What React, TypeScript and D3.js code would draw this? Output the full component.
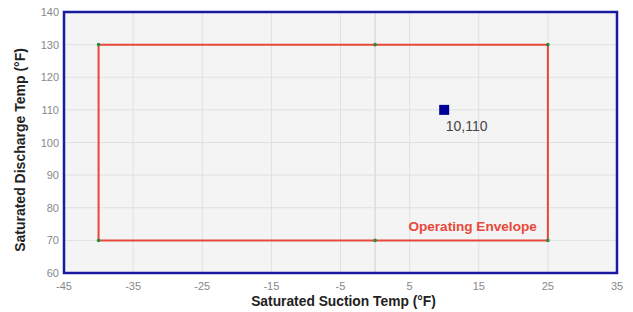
import React from 'react';
import { scaleLinear } from 'd3';

// operating envelope corners (suction, discharge)
const envelopeX = [-40, -40, 0, 25, 25, 0, -40];
const envelopeY = [70, 130, 130, 130, 70, 70, 70];

// current operating point
const pointX = [10];
const pointY = [110];
const pointLabels = ['10,110'];

const xTicks = [-45, -35, -25, -15, -5, 5, 15, 25, 35];
const yTicks = [60, 70, 80, 90, 100, 110, 120, 130, 140];

const W = 633;
const H = 312;
const margin = { left: 64, right: 16, top: 12, bottom: 39 };

export default function App() {
  const xScale = scaleLinear().domain([-45, 35]).range([margin.left, W - margin.right]);
  const yScale = scaleLinear().domain([60, 140]).range([H - margin.bottom, margin.top]);

  const pts = envelopeX.map((x, i) => [xScale(x), yScale(envelopeY[i])]);
  const path = 'M' + pts.map(p => p.join(',')).join('L');
  const font = 'Liberation Sans, Arial, sans-serif';

  return (
    <svg width={W} height={H} style={{ position: 'absolute', left: 0, top: 0, background: '#fff' }} fontFamily={font}>
      <rect x={xScale(-45)} y={yScale(140)} width={xScale(35) - xScale(-45)} height={yScale(60) - yScale(140)} fill="#f4f4f4" />
      {/* grid */}
      {xTicks.map(t => (
        <line key={'gx' + t} x1={xScale(t)} x2={xScale(t)} y1={yScale(140)} y2={yScale(60)} stroke="#e0e0e0" strokeWidth={1} />
      ))}
      <line x1={xScale(0)} x2={xScale(0)} y1={yScale(140)} y2={yScale(60)} stroke="#cfcfcf" strokeWidth={1} />
      {yTicks.map(t => (
        <line key={'gy' + t} x1={xScale(-45)} x2={xScale(35)} y1={yScale(t)} y2={yScale(t)} stroke="#e0e0e0" strokeWidth={1} />
      ))}
      {/* envelope */}
      <path d={path} fill="none" stroke="#e8483a" strokeWidth={2} />
      {pts.slice(0, 6).map((p, i) => (
        <circle key={'c' + i} cx={p[0]} cy={p[1]} r={1.8} fill="#2e8b3e" />
      ))}
      <text x={xScale(23.4)} y={yScale(72.8)} textAnchor="end" fill="#e8483a" fontWeight="bold" fontSize={13.6}>Operating Envelope</text>
      {/* operating point */}
      {pointX.map((x, i) => (
        <g key={'p' + i}>
          <rect x={xScale(x) - 5} y={yScale(pointY[i]) - 5} width={10} height={10} fill="#000099" />
          <text x={xScale(x) + 1.5} y={yScale(pointY[i]) + 21} fill="#444" fontSize={14}>{pointLabels[i]}</text>
        </g>
      ))}
      {/* border */}
      <rect x={xScale(-45)} y={yScale(140)} width={xScale(35) - xScale(-45)} height={yScale(60) - yScale(140)} fill="none" stroke="#1a1aa0" strokeWidth={2.5} />
      {/* tick labels */}
      {yTicks.map(t => (
        <text key={'ty' + t} x={margin.left - 5} y={yScale(t) + 4} textAnchor="end" fill="#888" fontSize={11}>{t}</text>
      ))}
      {xTicks.map(t => (
        <text key={'tx' + t} x={xScale(t)} y={H - margin.bottom + 17} textAnchor="middle" fill="#888" fontSize={11}>{t}</text>
      ))}
      <text x={(xScale(-45) + xScale(35)) / 2 + 3} y={H - 6} textAnchor="middle" fontWeight="bold" fontSize={13.8} fill="#222">Saturated Suction Temp (°F)</text>
      <text transform={`translate(25,150) rotate(-90)`} textAnchor="middle" fontWeight="bold" fontSize={14} fill="#222">Saturated Discharge Temp (°F)</text>
    </svg>
  );
}
